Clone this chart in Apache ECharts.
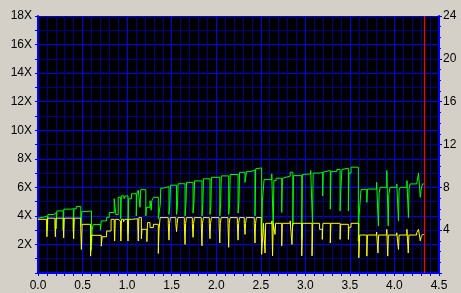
<!DOCTYPE html>
<html><head><meta charset="utf-8">
<script src="https://cdn.jsdelivr.net/npm/echarts@6/dist/echarts.min.js"></script>
<style>html,body{margin:0;padding:0;background:#d4d0c8;overflow:hidden}#c{width:461px;height:293px}</style>
</head><body><div id="c"></div>
<script>
// Tick labels
const xTickLabels = ['0.0','0.5','1.0','1.5','2.0','2.5','3.0','3.5','4.0','4.5'];
const leftTickLabels = ['','2X','4X','6X','8X','10X','12X','14X','16X','18X'];
const rightTickLabels = ['','4','8','12','16','20','24'];
const markerX = 4.335;

// Green trace (read speed, X) — step points
const greenX = [0,0.02,0.08,0.105,0.112,0.18,0.205,0.212,0.283,0.29,0.36,0.397,0.404,0.43,0.48,0.49,
 0.55,0.6,0.607,0.62,0.70,0.71,0.77,0.80,0.855,0.873,0.9,0.928,0.935,0.965,0.98,1.01,1.018,1.05,1.103,1.11,1.125,1.145,1.153,
 1.21,1.217,1.257,1.27,1.277,1.295,
 1.35,1.372,1.378,1.41,1.47,1.48,1.487,1.555,1.565,1.572,1.65,1.66,1.667,1.74,1.75,1.757,1.84,1.85,1.857,1.93,1.94,1.947,2.04,2.05,2.057,2.14,2.15,2.157,2.245,2.255,2.262,
 2.323,2.34,2.38,2.435,2.443,2.454,2.51,2.518,2.537,2.623,2.64,2.647,2.672,2.735,2.743,2.754,2.83,2.86,2.867,2.96,2.967,2.98,3.06,3.08,3.088,3.166,3.195,3.2,3.22,3.28,3.288,3.353,3.39,3.398,3.41,3.427,3.483,3.49,3.513,
 3.595,3.603,3.625,3.69,3.697,3.8,3.82,3.828,3.84,3.914,3.93,3.937,3.95,4.026,4.045,4.052,4.064,4.14,4.157,4.164,4.176,4.25,4.27,4.29,4.3,4.315,4.33];
const greenY = [3.84,3.93,4.0,3.0,4.1,4.24,3.1,4.35,3.0,4.47,4.5,2.9,4.5,4.66,3.3,4.3,
 4.35,1.6,3.0,3.4,3.0,3.65,3.9,4.24,5.2,4.1,5.3,3.8,5.4,5.2,5.4,2.8,5.2,5.55,4.0,5.55,5.8,4.6,5.84,
 4.0,4.6,5.06,4.4,5.06,5.3,
 3.8,4.8,5.95,6.05,4.1,4.8,6.15,4.1,4.7,6.25,4.0,4.8,6.35,4.2,4.9,6.45,4.0,4.8,6.6,4.1,4.7,6.7,4.0,4.9,6.8,4.1,4.8,6.9,4.2,4.9,7.05,
 6.35,7.1,7.2,4.0,7.3,7.36,2.6,5.0,6.54,6.94,3.0,6.47,6.64,4.24,6.64,6.78,7.06,3.3,6.82,2.35,6.9,6.94,7.18,3.5,7.0,7.06,5.4,7.06,7.18,4.47,7.1,7.25,4.35,5.76,7.25,7.34,4.35,7.0,7.41,
 2.23,4.0,5.84,4.94,5.88,6.35,3.3,5.6,6.0,7.18,3.3,5.5,6.0,6.24,3.65,5.8,6.0,6.47,3.88,5.9,6.24,6.35,7.0,5.3,5.88,6.24,6.24];

// Yellow trace — step points
const yellowX = [0,0.097,0.1,0.107,0.19,0.195,0.202,0.283,0.288,0.295,0.395,0.4,0.407,0.48,0.487,0.495,0.59,0.6,0.71,0.72,0.77,0.82,0.855,0.86,0.867,0.9,0.925,0.93,0.937,0.96,0.975,1.005,1.01,1.017,1.05,1.065,1.12,1.125,1.132,
 1.16,1.167,1.222,1.229,1.257,1.295,1.35,1.358,1.37,
 1.462,1.47,1.476,1.485, 1.547,1.555,1.561,1.57, 1.642,1.65,1.656,1.665, 1.732,1.74,1.746,1.755, 1.832,1.84,1.846,1.855,
 1.922,1.93,1.936,1.945, 2.032,2.04,2.046,2.055, 2.132,2.14,2.146,2.155, 2.237,2.245,2.251,2.26, 2.315,2.323,2.329,2.338,
 2.427,2.435,2.441,2.45, 2.505,2.51,
 2.53,2.548,2.555,2.625,2.632,2.64,2.66,2.667,2.735,2.742,2.83,2.85,2.858,2.96,2.967,3.075,3.083,3.16,3.19,3.197,3.28,3.287,3.39,3.397,3.483,3.49,3.513,
 3.6,3.61,3.69,3.697,3.8,3.815,3.822,3.914,3.925,3.932,4.026,4.045,4.052,4.14,4.155,4.162,4.25,4.27,4.29,4.3,4.315,4.33];
const yellowY = [3.76,3.3,2.54,3.84,3.3,2.54,3.84,3.3,2.47,3.84,3.3,2.4,3.84,3.0,1.65,3.41,1.18,2.64,1.88,2.54,2.94,3.76,3.3,2.24,3.76,3.65,3.3,2.24,3.76,3.6,3.76,3.3,2.24,3.76,3.65,3.8,3.3,2.24,3.88,
 2.4,3.06,2.2,3.53,3.18,3.41,1.37,3.0,3.88,
 3.45,2.3,3.45,3.88, 3.45,2.9,3.45,3.88, 3.45,2.0,3.45,3.88, 3.45,2.5,3.45,3.88, 3.45,1.9,3.45,3.88,
 3.45,2.4,3.45,3.88, 3.45,2.1,3.45,3.88, 3.45,1.8,3.45,3.88, 3.45,2.3,3.45,3.88, 3.45,2.7,3.45,3.88,
 3.45,2.1,3.45,3.88, 3.2,1.3,
 3.48,1.4,3.48,3.65,1.2,3.48,2.7,3.48,1.9,3.48,3.65,2.0,3.48,1.2,3.48,1.2,3.48,3.06,2.35,3.48,2.1,3.48,2.35,3.41,2.35,3.2,3.48,
 1.06,2.66,1.18,2.66,2.87,1.4,2.66,3.06,1.18,2.66,2.82,1.65,2.66,3.06,1.4,2.66,2.82,3.06,2.25,2.54,2.7,2.7];

const pairs = (xs, ys) => xs.map((x, i) => [x, ys[i]]);
const FONT = 'Liberation Sans';
const BLUE = '#0000ff';
const NAVY = '#000088';

const chart = echarts.init(document.getElementById('c'), null, {renderer: 'canvas'});
chart.setOption({
  animation: false,
  backgroundColor: '#d4d0c8',
  grid: {left: 38, right: 22, top: 16, bottom: 20, show: true, backgroundColor: '#000', borderWidth: 0},
  xAxis: {
    type: 'value', min: 0, max: 4.5, interval: 0.5,
    axisLine: {show: true, onZero: false, lineStyle: {color: BLUE, width: 2}},
    axisTick: {show: true, length: 3, lineStyle: {color: BLUE}},
    minorTick: {show: true, splitNumber: 5, length: 3, lineStyle: {color: BLUE}},
    splitLine: {show: true, lineStyle: {color: BLUE, width: 1}},
    minorSplitLine: {show: true, lineStyle: {color: NAVY, width: 1}},
    axisLabel: {color: '#000', fontFamily: FONT, fontSize: 12, margin: 7,
      formatter: v => xTickLabels[Math.round(v / 0.5)] || ''}
  },
  yAxis: [{
    type: 'value', min: 0, max: 18, interval: 2, position: 'left',
    axisLine: {show: true, lineStyle: {color: BLUE, width: 2}},
    axisTick: {show: true, length: 3, lineStyle: {color: BLUE}},
    minorTick: {show: true, splitNumber: 2, length: 3, lineStyle: {color: BLUE}},
    splitLine: {show: true, lineStyle: {color: BLUE, width: 1}},
    minorSplitLine: {show: true, lineStyle: {color: NAVY, width: 1}},
    axisLabel: {color: '#000', fontFamily: FONT, fontSize: 12, margin: 6,
      formatter: v => leftTickLabels[Math.round(v / 2)] || ''}
  }, {
    type: 'value', min: 0, max: 24, interval: 4, position: 'right',
    axisLine: {show: true, lineStyle: {color: BLUE, width: 2}},
    axisTick: {show: true, length: 3, lineStyle: {color: BLUE}},
    minorTick: {show: true, splitNumber: 4, length: 2, lineStyle: {color: BLUE}},
    splitLine: {show: false},
    axisLabel: {color: '#000', fontFamily: FONT, fontSize: 12, margin: 4,
      formatter: v => rightTickLabels[Math.round(v / 4)] || ''}
  }],
  series: [{
    type: 'line', name: 'speed', data: pairs(greenX, greenY), step: 'end',
    showSymbol: false, xAxisIndex: 0, yAxisIndex: 0,
    lineStyle: {color: '#00ff00', width: 1}, itemStyle: {color: '#00ff00'},
    markLine: {silent: true, symbol: 'none', label: {show: false},
      lineStyle: {color: '#ff0000', width: 1.2, type: 'solid'},
      data: [{xAxis: markerX}]}
  }, {
    type: 'line', name: 'cpu', data: pairs(yellowX, yellowY), step: 'end',
    showSymbol: false, xAxisIndex: 0, yAxisIndex: 0,
    lineStyle: {color: '#ffff00', width: 1}, itemStyle: {color: '#ffff00'}
  }]
});
</script></body></html>
